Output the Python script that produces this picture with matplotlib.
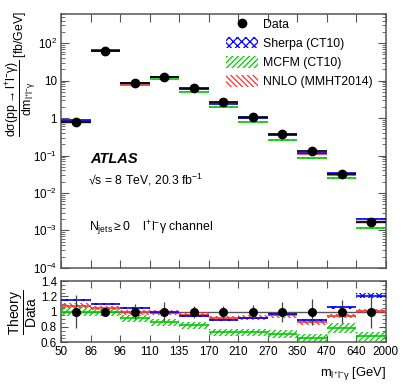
import numpy as np
import matplotlib
matplotlib.use("Agg")
import matplotlib.pyplot as plt
from matplotlib.patches import Patch
from matplotlib.lines import Line2D
from matplotlib.ticker import FixedLocator, LogLocator, MultipleLocator, NullFormatter

plt.rcParams['font.family'] = ['Liberation Sans', 'DejaVu Sans']
plt.rcParams['mathtext.fontset'] = 'custom'
plt.rcParams['mathtext.rm'] = 'Liberation Sans'
plt.rcParams['mathtext.it'] = 'Liberation Sans:italic'
plt.rcParams['mathtext.bf'] = 'Liberation Sans:bold'
plt.rcParams['mathtext.default'] = 'regular'
plt.rcParams['hatch.linewidth'] = 0.9

# bin edges in m_llgamma [GeV] (shown with equal spacing)
edge_labels = ["50", "86", "96", "110", "135", "170", "210", "270", "350", "470", "640", "2000"]

# measured cross section dsigma/dm [fb/GeV] and relative uncertainty
data_xsec = [0.78, 61.0, 8.4, 12.6, 6.2, 2.7, 1.1, 0.37, 0.13, 0.032, 0.0017]
data_relerr = [0.22, 0.05, 0.10, 0.12, 0.08, 0.08, 0.09, 0.13, 0.17, 0.15, 0.21]

# theory / data
sherpa_ratio = [1.15, 1.10, 1.045, 0.99, 0.94, 0.89, 0.91, 0.97, 0.89, 1.055, 1.21]
mcfm_ratio = [1.00, 0.99, 0.915, 0.86, 0.82, 0.73, 0.73, 0.71, 0.655, 0.785, 0.675]
nnlo_ratio = [1.08, 1.045, 0.99, 0.985, 0.96, 0.915, 0.92, 0.95, 0.86, 0.94, 1.01]

# theory uncertainty (half width, relative)
sherpa_unc = [0.01, 0.01, 0.01, 0.01, 0.01, 0.01, 0.01, 0.012, 0.015, 0.02, 0.03]
mcfm_unc = [0.06, 0.045, 0.045, 0.045, 0.045, 0.045, 0.045, 0.05, 0.05, 0.06, 0.06]
nnlo_unc = [0.03, 0.03, 0.03, 0.03, 0.03, 0.03, 0.03, 0.03, 0.03, 0.03, 0.03]

SHERPA_C = '#0000ff'
MCFM_C = '#00cc00'
NNLO_C = '#ff3030'
AXIS_C = '#555555'
FS = 8.4


def draw_band(ax, centers, lo, hi, color, hatch, face='none'):
    ax.bar(centers, np.asarray(hi) - np.asarray(lo), bottom=lo, width=1.0,
           facecolor=face, edgecolor=color, hatch=hatch, linewidth=0, zorder=2)


def style_axis(ax):
    for sp in ax.spines.values():
        sp.set_color(AXIS_C)
        sp.set_linewidth(1.1)
    ax.tick_params(which='both', direction='in', top=True, right=True,
                   color=AXIS_C, labelsize=FS, pad=3)
    ax.tick_params(which='major', length=6)
    ax.tick_params(which='minor', length=3)


def main():
    nbins = len(data_xsec)
    x = np.arange(nbins) + 0.5
    data = np.array(data_xsec)
    derr = np.array(data_relerr)

    fig = plt.figure(figsize=(4.07, 3.91), dpi=100)
    ax = fig.add_axes([0.150, 0.315, 0.798, 0.649])
    rax = fig.add_axes([0.150, 0.125, 0.798, 0.156])

    # ---- top panel ----
    models = [
        (sherpa_ratio, sherpa_unc, SHERPA_C, 'xxxx'),
        (mcfm_ratio, mcfm_unc, MCFM_C, '//////'),
        (nnlo_ratio, nnlo_unc, NNLO_C, '\\\\\\\\\\\\'),
    ]
    # grey data band
    draw_band(ax, x, data * (1 - 0.5 * derr), data * (1 + 0.5 * derr), '#bbbbbb', None, face='#d0d0d0')
    for ratio, unc, col, hatch in [models[1], models[2], models[0]]:
        val = data * np.array(ratio)
        unc = np.array(unc)
        draw_band(ax, x, val * (1 - unc), val * (1 + unc), col, hatch)
        ax.hlines(val, x - 0.5, x + 0.5, color=col, lw=1.2, zorder=3)
    ax.errorbar(x, data, xerr=0.5, yerr=[data * derr * 0.3, data * derr * 0.3], fmt='o', color='black',
                ms=6, elinewidth=1.2, capsize=0, zorder=5)

    ax.set_yscale('log')
    ax.set_ylim(1e-4, 6e2)
    ax.set_xlim(0, nbins)
    ax.xaxis.set_major_locator(FixedLocator(np.arange(nbins + 1)))
    ax.xaxis.set_major_formatter(NullFormatter())
    ax.yaxis.set_minor_locator(LogLocator(base=10, subs=np.arange(2, 10), numticks=12))
    ax.yaxis.set_minor_formatter(NullFormatter())
    ax.set_yticks([1e-4, 1e-3, 1e-2, 1e-1, 1, 10, 100])
    ax.set_yticklabels([r'$10^{-4}$', r'$10^{-3}$', r'$10^{-2}$', r'$10^{-1}$', '1', '10', r'$10^{2}$'])
    style_axis(ax)

    handles = [
        Line2D([], [], marker='o', color='black', ls='none', ms=6),
        Patch(facecolor='white', edgecolor=SHERPA_C, hatch='xxxx', lw=0),
        Patch(facecolor='white', edgecolor=MCFM_C, hatch='//////', lw=0),
        Patch(facecolor='white', edgecolor=NNLO_C, hatch='\\\\\\\\\\\\', lw=0),
    ]
    labels = ['Data', 'Sherpa (CT10)', 'MCFM (CT10)', 'NNLO (MMHT2014)']
    fig.legend(handles, labels, loc='upper left', bbox_to_anchor=(0.555, 0.955),
               frameon=False, fontsize=FS + 0.4, handlelength=2.6, handleheight=1.1,
               handletextpad=0.4, labelspacing=0.5, borderpad=0, borderaxespad=0)

    fig.text(90 / 407, 1 - 159 / 391, 'ATLAS', fontsize=10.5, fontweight='bold', style='italic',
             va='center', ha='left')
    fig.text(88 / 407, 1 - 180 / 391, '\u221as = 8 TeV, 20.3 fb$^{-1}$', fontsize=FS + 0.4,
             va='center', ha='left')
    fig.text(89 / 407, 1 - 228 / 391, r'N$_{jets}$$\geq$0    l$^{+}$l$^{-}\gamma$ channel', fontsize=FS + 0.4,
             va='center', ha='left')
    fig.text(21 / 407, 1 - 74 / 391,
             r'$\dfrac{d\sigma(pp\rightarrow l^{+}l^{-}\gamma)}{dm_{l^{+}l^{-}\gamma}}$ [fb/GeV]',
             rotation=90, fontsize=FS + 0.4, ha='center', va='center')

    # ---- ratio panel ----
    rax.axhline(1.0, color=AXIS_C, lw=1.0, zorder=1)
    for ratio, unc, col, hatch in [models[1], models[2], models[0]]:
        r = np.array(ratio)
        u = np.array(unc)
        draw_band(rax, x, r - u, r + u, col, hatch)
        rax.hlines(r, x - 0.5, x + 0.5, color=col, lw=1.2, zorder=3)
    rax.errorbar(x, np.ones(nbins), yerr=derr, fmt='o', color='black', ecolor='#444444',
                 ms=5.5, elinewidth=0.9, capsize=0, zorder=5)

    rax.set_xlim(0, nbins)
    rax.set_ylim(0.6, 1.4)
    rax.xaxis.set_major_locator(FixedLocator(np.arange(nbins + 1)))
    rax.set_xticklabels(edge_labels)
    rax.yaxis.set_minor_locator(MultipleLocator(0.05))
    rax.set_yticks([0.6, 0.8, 1.0, 1.2, 1.4])
    rax.set_yticklabels(['0.6', '0.8', '1', '1.2', '1.4'])
    style_axis(rax)
    rax.tick_params(which='major', length=5)

    fig.text(23 / 407, 1 - 312 / 391, r'$\dfrac{Theory}{Data}$', rotation=90, fontsize=FS + 1.6,
             ha='center', va='center')
    fig.text(386 / 407, 1 - 373 / 391, r'm$_{l^{+}l^{-}\gamma}$ [GeV]', fontsize=FS + 1,
             ha='right', va='center')

    fig.savefig('out.png', dpi=100)


if __name__ == "__main__":
    main()
